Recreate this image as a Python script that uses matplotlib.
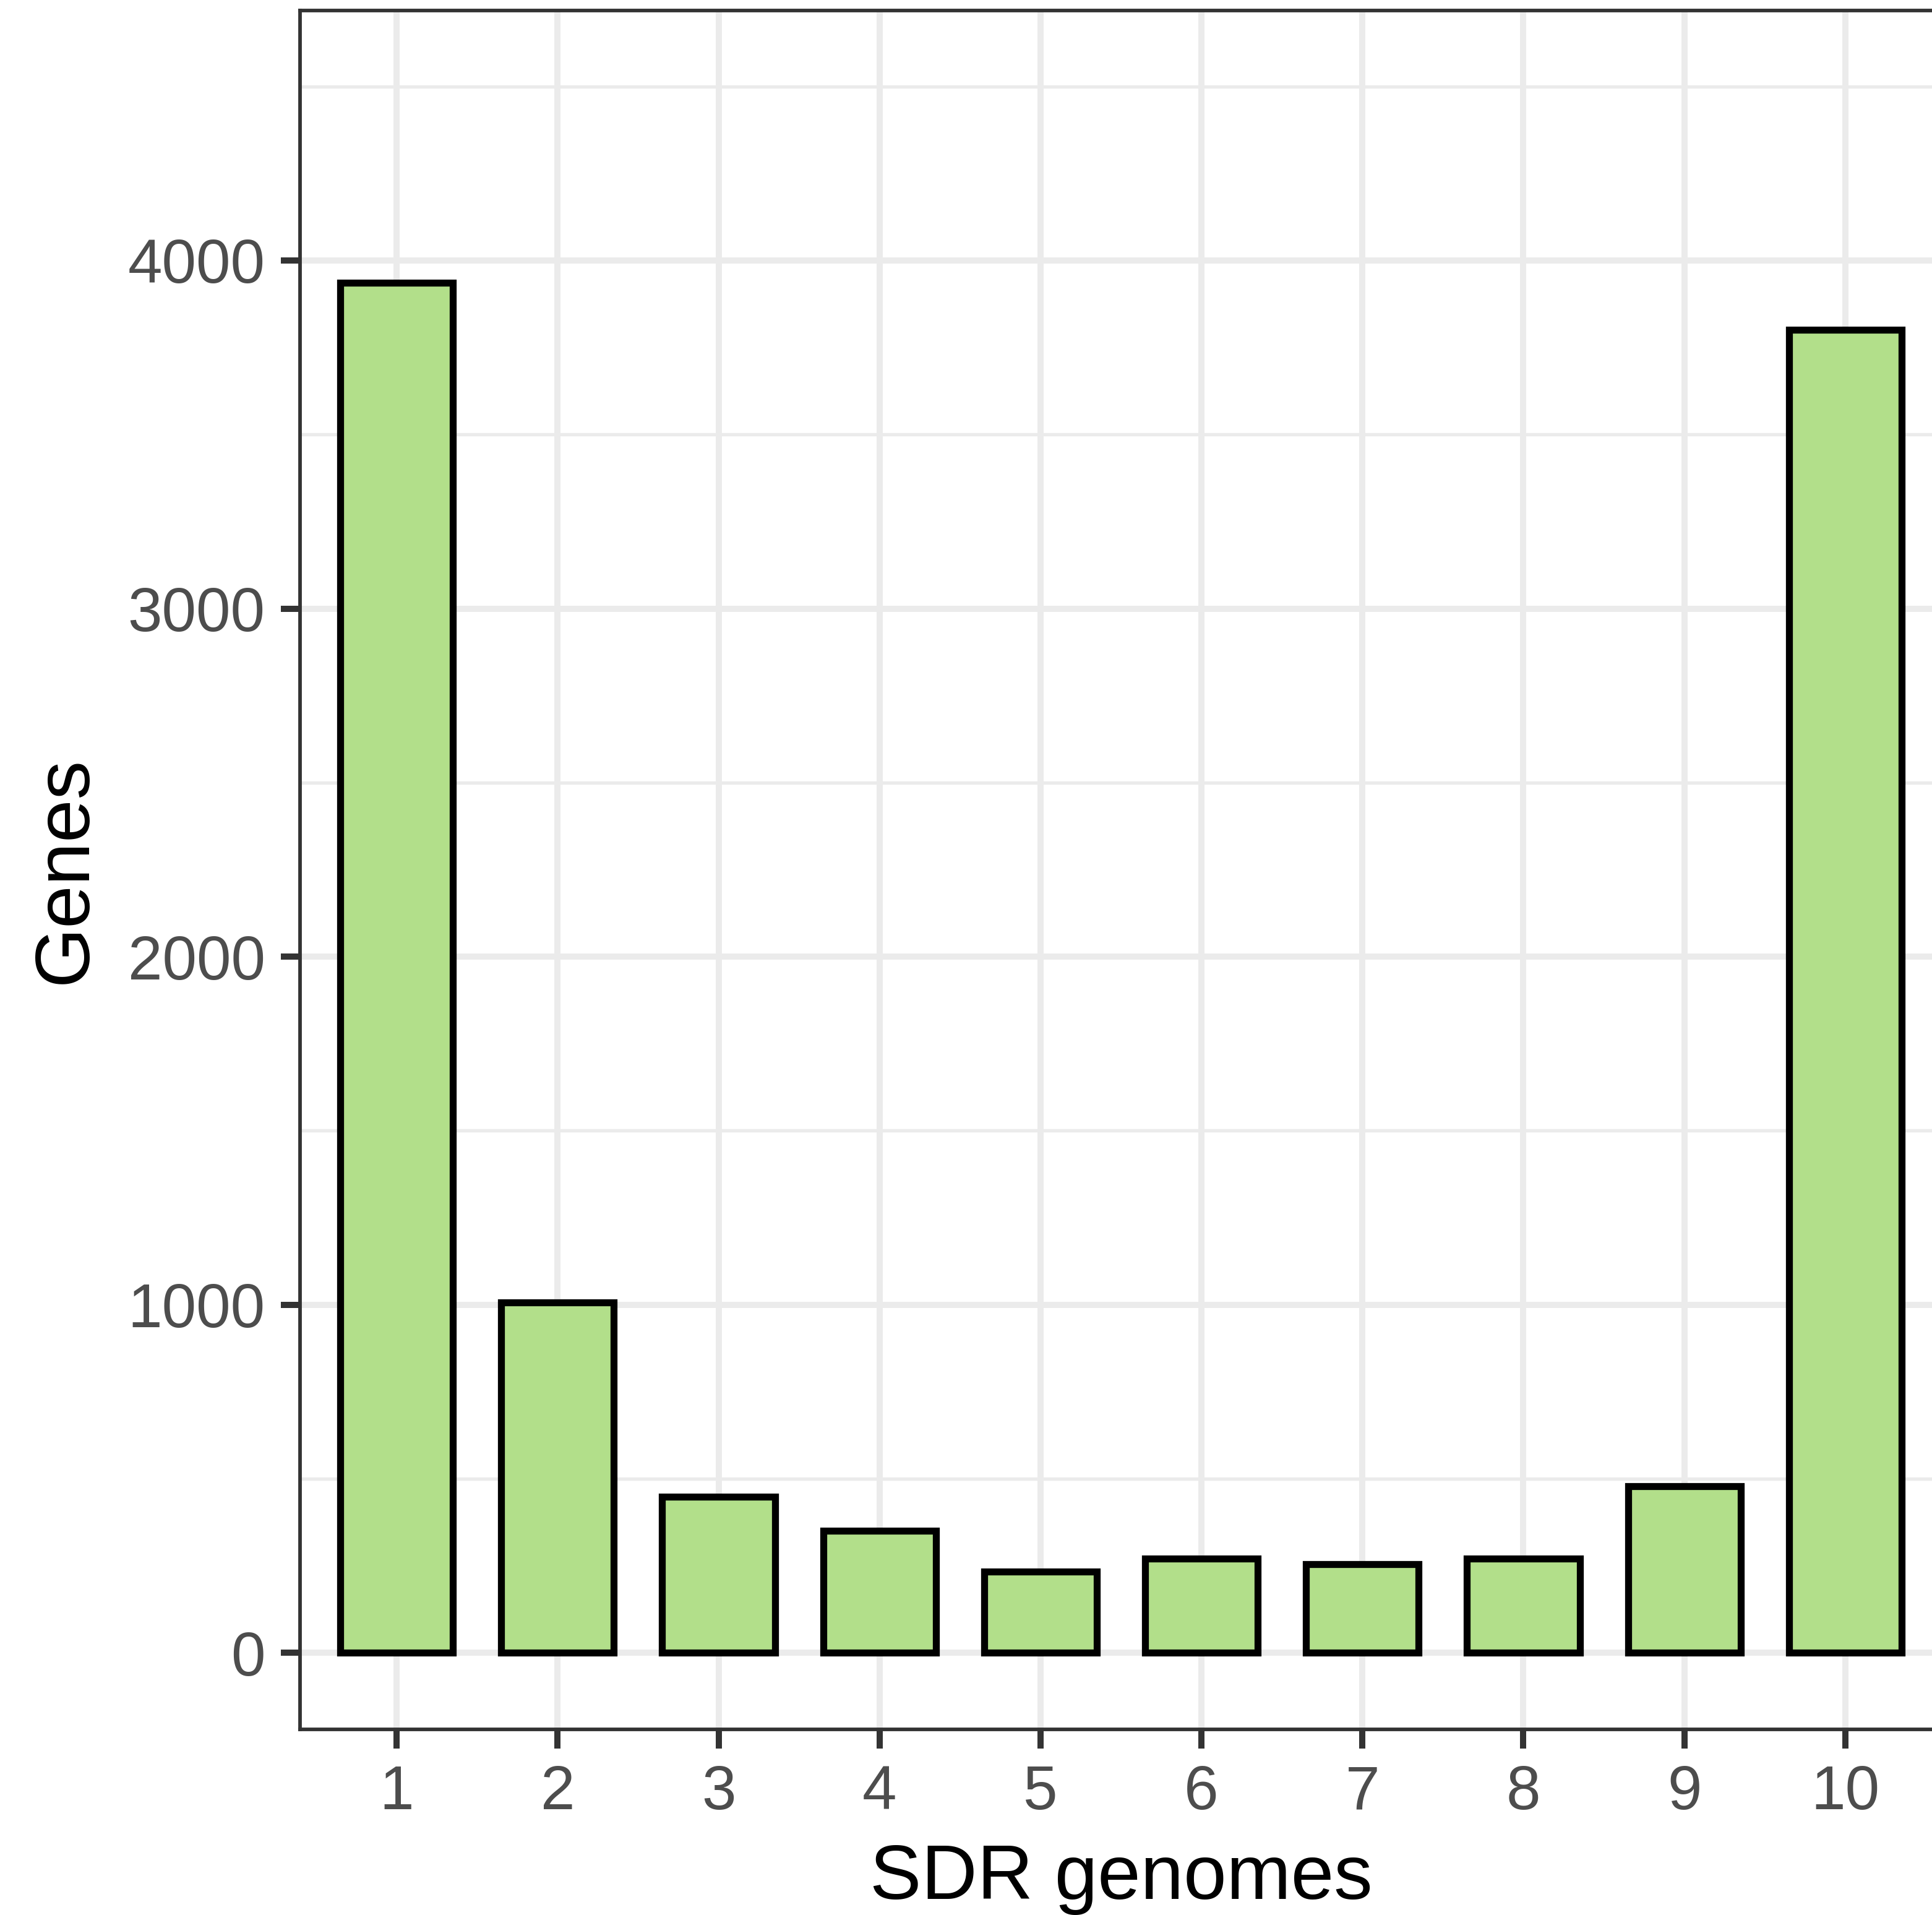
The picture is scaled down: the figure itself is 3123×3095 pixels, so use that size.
import matplotlib.pyplot as plt
import numpy as np

genomes = [1, 2, 3, 4, 5, 6, 7, 8, 9, 10]
genes = [3936, 1006, 448, 350, 234, 270, 255, 270, 478, 3801]
tick_labels = [str(g) for g in genomes]

plt.rcParams["font.family"] = ["Liberation Sans", "DejaVu Sans"]

fig = plt.figure(figsize=(3123 / 300, 3095 / 300), dpi=300)
# panel runs past the right edge of the picture, like the reference crop
ax = fig.add_axes([485 / 3123, 300 / 3095, 2654 / 3123, 2778 / 3095])

ax.bar(genomes, genes, width=0.7, color="#B2DF8A", edgecolor="black",
       linewidth=2.7, zorder=3)

ax.set_xlim(0.4, 10.6)
ax.set_ylim(-220, 4718)

ax.set_xticks(genomes)
ax.set_xticklabels(tick_labels)
ax.set_yticks([0, 1000, 2000, 3000, 4000])
ax.set_yticks([500, 1500, 2500, 3500, 4500], minor=True)

ax.grid(which="major", color="#EBEBEB", linewidth=2.4, zorder=0)
ax.grid(which="minor", axis="y", color="#EBEBEB", linewidth=1.3, zorder=0)
ax.set_axisbelow(True)

for s in ax.spines.values():
    s.set_color("#333333")
    s.set_linewidth(1.4)

ax.tick_params(which="major", length=7.5, width=2.4, color="#333333",
               labelsize=24, labelcolor="#4D4D4D", pad=6)
ax.tick_params(which="minor", length=0)

ax.set_xlabel("SDR genomes", fontsize=30, labelpad=8)
ax.set_ylabel("Genes", fontsize=30, labelpad=10)

fig.savefig("out.png", dpi=300)
